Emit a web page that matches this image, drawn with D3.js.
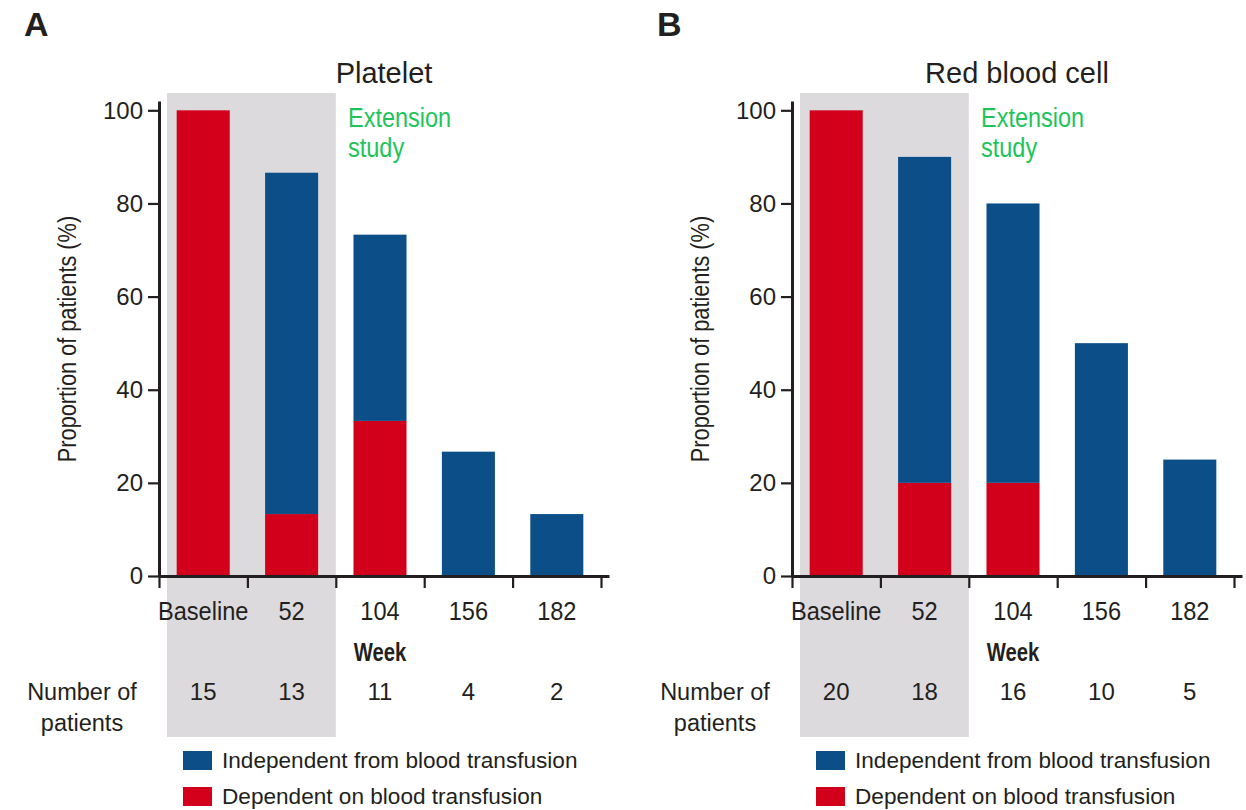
<!DOCTYPE html>
<html lang="en">
<head>
<meta charset="UTF-8">
<script src="https://d3js.org/d3.v7.min.js"></script>
<title>Transfusion independence</title>
<style>
    body { margin: 0; background: white; }
    text { font-family: "Liberation Sans", Arial, sans-serif; fill: #231f20; }
</style>
</head>
<body>
<div id="chart"></div>
<script>
    // data
    const weeks = ["Baseline", "52", "104", "156", "182"];
    const yTicks = [0, 20, 40, 60, 80, 100];

    const plateletIndependent = [0, 73.3, 40, 26.7, 13.3];
    const plateletDependent = [100, 13.3, 33.3, 0, 0];
    const plateletPatients = [15, 13, 11, 4, 2];

    const rbcIndependent = [0, 70, 60, 50, 25];
    const rbcDependent = [100, 20, 20, 0, 0];
    const rbcPatients = [20, 18, 16, 10, 5];

    const legendLabels = ["Independent from blood transfusion", "Dependent on blood transfusion"];

    const blue = "#0c4f88";
    const red = "#d2001a";
    const shade = "#dcdadd";
    const green = "#1ec45a";

    const svg = d3.select("#chart").append("svg")
        .attr("width", 1246)
        .attr("height", 810);

    const drawPanel = (offsetX, letter, title, independent, dependent, patients) => {
        const g = svg.append("g").attr("transform", `translate(${offsetX},0)`);

        const x0 = 159, x1 = 601;
        const x = d3.scaleBand().domain(weeks).range([x0, x1]).paddingInner(0.4).paddingOuter(0.2);
        const xEdge = d3.scaleLinear().domain([0, 5 + 8 / x.step()]).range([x0, x1 + 8]);
        const y = d3.scaleLinear().domain([0, 102]).range([576, 101]);
        const mid = d => x(d) + x.bandwidth() / 2;

        // shaded core-study period (baseline and week 52)
        g.append("rect")
            .attr("x", x0 + 8)
            .attr("y", 93)
            .attr("width", xEdge(2) - x0 - 8)
            .attr("height", 737 - 93)
            .attr("fill", shade);

        const rows = weeks.map((w, i) => ({ week: w, dependent: dependent[i], independent: independent[i] }));
        const stacked = d3.stack().keys(["dependent", "independent"])(rows);
        const colors = { dependent: red, independent: blue };

        g.selectAll("g.layer")
            .data(stacked)
            .enter()
            .append("g")
            .attr("class", "layer")
            .attr("fill", d => colors[d.key])
            .selectAll("rect")
            .data(d => d)
            .enter()
            .append("rect")
            .attr("x", d => x(d.data.week))
            .attr("width", x.bandwidth())
            .attr("y", d => y(d[1]))
            .attr("height", d => y(d[0]) - y(d[1]));

        // y axis
        const yAxis = g.append("g")
            .attr("transform", `translate(${x0},0)`)
            .call(d3.axisLeft(y).tickValues(yTicks).tickSize(11).tickSizeOuter(0).tickPadding(5));
        yAxis.select(".domain").attr("stroke", "#231f20").attr("stroke-width", 3);
        yAxis.selectAll(".tick line").attr("stroke", "#231f20").attr("stroke-width", 2.2);
        yAxis.selectAll(".tick text").attr("font-size", 24).attr("font-family", null).attr("fill", "#231f20");

        // x axis, ticks on category edges
        const xAxis = g.append("g")
            .attr("transform", `translate(0,${y(0)})`)
            .call(d3.axisBottom(xEdge).tickValues(d3.range(6)).tickFormat("").tickSize(12).tickSizeOuter(0));
        xAxis.select(".domain").attr("stroke", "#231f20").attr("stroke-width", 3);
        xAxis.selectAll(".tick line").attr("stroke", "#231f20").attr("stroke-width", 2.2);

        // slightly condensed labels, like the original typeface
        g.selectAll("text.week")
            .data(weeks)
            .enter()
            .append("text")
            .attr("class", "week")
            .attr("transform", d => `translate(${mid(d)},620) scale(0.89,1)`)
            .attr("text-anchor", "middle")
            .attr("font-size", 26.5)
            .text(d => d);

        g.append("text")
            .attr("transform", `translate(${mid(weeks[2])},661) scale(0.78,1)`)
            .attr("text-anchor", "middle")
            .attr("font-size", 26)
            .attr("font-weight", "bold")
            .text("Week");

        g.append("text")
            .attr("transform", `translate(76,339) rotate(-90) scale(0.82,1)`)
            .attr("text-anchor", "middle")
            .attr("font-size", 26.5)
            .text("Proportion of patients (%)");

        // title, panel letter, extension label
        g.append("text")
            .attr("x", 24)
            .attr("y", 36)
            .attr("font-size", 34)
            .attr("font-weight", "bold")
            .text(letter);

        g.append("text")
            .attr("x", 384)
            .attr("y", 83)
            .attr("text-anchor", "middle")
            .attr("font-size", 29)
            .text(title);

        const ext = g.append("text")
            .attr("transform", "translate(348,127) scale(0.87,1)")
            .attr("font-size", 27)
            .style("fill", green);
        ext.append("tspan").attr("x", 0).text("Extension");
        ext.append("tspan").attr("x", 0).attr("dy", 30).text("study");

        // number of patients row
        const np = g.append("text")
            .attr("x", 82)
            .attr("y", 700)
            .attr("text-anchor", "middle")
            .attr("font-size", 23.5);
        np.append("tspan").attr("x", 82).text("Number of");
        np.append("tspan").attr("x", 82).attr("dy", 31).text("patients");

        g.selectAll("text.count")
            .data(patients)
            .enter()
            .append("text")
            .attr("class", "count")
            .attr("x", (d, i) => mid(weeks[i]))
            .attr("y", 700)
            .attr("text-anchor", "middle")
            .attr("font-size", 24)
            .text(d => d);

        // legend
        const legend = g.selectAll("g.legend")
            .data(legendLabels)
            .enter()
            .append("g")
            .attr("class", "legend")
            .attr("transform", (d, i) => `translate(183,${751 + i * 36})`);
        legend.append("rect")
            .attr("width", 29)
            .attr("height", 19)
            .attr("fill", (d, i) => i === 0 ? blue : red);
        legend.append("text")
            .attr("x", 39)
            .attr("y", 17)
            .attr("font-size", 22.6)
            .text(d => d);
    };

    drawPanel(0, "A", "Platelet", plateletIndependent, plateletDependent, plateletPatients);
    drawPanel(633, "B", "Red blood cell", rbcIndependent, rbcDependent, rbcPatients);
</script>
</body>
</html>
